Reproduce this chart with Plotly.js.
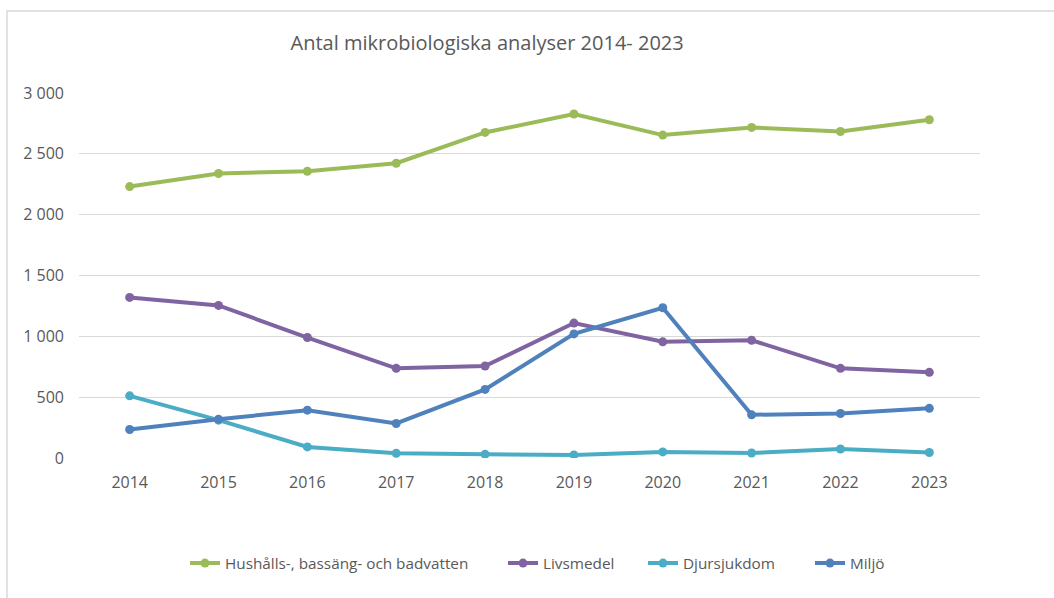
<!DOCTYPE html>
<html>
<head>
<meta charset="utf-8">
<script src="https://cdn.plot.ly/plotly-3.0.1.min.js"></script>
<style>html,body{margin:0;padding:0;background:#fff;}#chart{width:1054px;height:598px;}</style>
</head>
<body>
<div id="chart"></div>
<script>
const years = ['2014','2015','2016','2017','2018','2019','2020','2021','2022','2023'];
const hushall = [2231, 2338, 2357, 2423, 2676, 2827, 2654, 2717, 2684, 2780];
const livsmedel = [1320, 1254, 990, 737, 756, 1109, 955, 968, 737, 704];
const djursjukdom = [511, 311, 91, 39, 30, 25, 50, 41, 74, 45];
const miljo = [234, 319, 393, 284, 564, 1020, 1235, 355, 366, 408];
const seriesNames = ['Hushålls-, bassäng- och badvatten', 'Livsmedel', 'Djursjukdom', 'Miljö'];
const seriesColors = ['#9BBB59', '#8064A2', '#4BACC6', '#4F81BD'];
const yTicks = [0, 500, 1000, 1500, 2000, 2500, 3000];
const titleText = 'Antal mikrobiologiska analyser 2014- 2023';

const legendIds = ['legend', 'legend2', 'legend3', 'legend4'];
const legendPx = [185, 503, 643, 810];   // left edge of each legend entry in pixels
const plotL = 79, plotW = 901;

const allSeries = [hushall, livsmedel, djursjukdom, miljo];
const traces = allSeries.map((vals, i) => ({
  x: years, y: vals, type: 'scatter', mode: 'lines+markers',
  name: seriesNames[i],
  legend: legendIds[i],
  line: {color: seriesColors[i], width: 4},
  marker: {color: seriesColors[i], size: 9}
}));

const font = 'Open Sans, Liberation Sans, sans-serif';
const layout = {
  width: 1054, height: 598,
  margin: {l: plotL, r: 1054 - plotL - plotW, t: 93, b: 140},
  paper_bgcolor: '#ffffff', plot_bgcolor: '#ffffff',
  separators: ', ',
  font: {family: font, color: '#595959', size: 16},
  title: {text: titleText, font: {family: font, size: 20, color: '#595959'},
          x: 0.453, xref: 'paper', xanchor: 'center', y: 0.928, yref: 'container', yanchor: 'middle'},
  xaxis: {type: 'category', showgrid: false, zeroline: false, showline: false,
          ticks: '', ticklabelstandoff: 13, tickfont: {size: 16, color: '#595959'}, fixedrange: true},
  yaxis: {range: [0, 3000], tickvals: yTicks, tickformat: ',d', showgrid: true, gridcolor: '#d9d9d9', gridwidth: 1.3,
          zeroline: false, showline: false, ticks: '', ticklabelstandoff: 14,
          tickfont: {size: 16, color: '#595959'}, fixedrange: true},
  showlegend: true,
  shapes: [{type: 'rect', xref: 'paper', yref: 'paper', x0: -0.0799, x1: 2, y0: -2, y1: 1.2247,
            line: {color: '#d9d9d9', width: 1.5}, fillcolor: 'rgba(0,0,0,0)', layer: 'below'}]
};
legendIds.forEach((id, i) => {
  layout[id] = {orientation: 'h', x: (legendPx[i] - plotL) / plotW, xanchor: 'left', y: -0.288, yanchor: 'middle',
                font: {size: 15.3, color: '#595959'}, itemwidth: 30, bgcolor: 'rgba(0,0,0,0)'};
});
Plotly.newPlot('chart', traces, layout, {displayModeBar: false, staticPlot: true});
</script>
</body>
</html>
